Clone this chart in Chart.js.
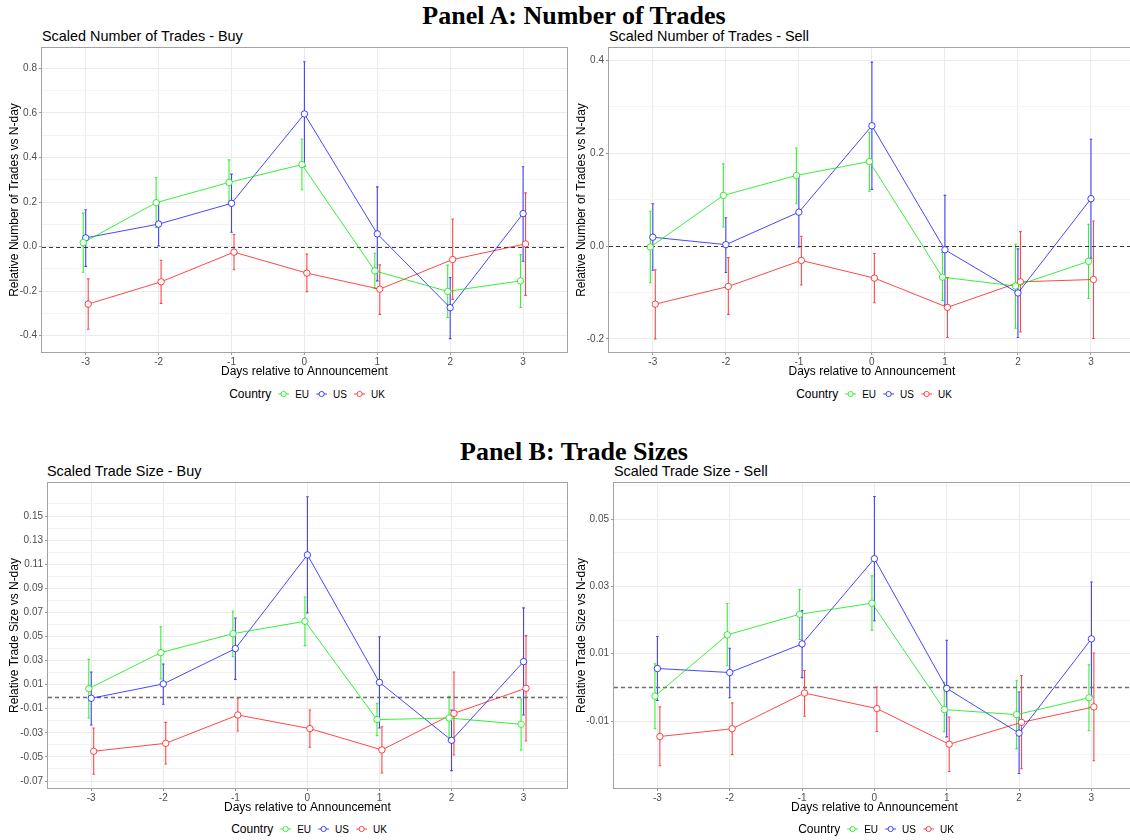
<!DOCTYPE html>
<html><head><meta charset="utf-8">
<script src="https://cdn.jsdelivr.net/npm/chart.js@4.4.1/dist/chart.umd.min.js"></script>
<style>
html,body{margin:0;padding:0;background:#fff;overflow:hidden;width:1130px;height:840px;position:relative;}
canvas{position:absolute;}
.ptitle{position:absolute;left:0;width:1148px;text-align:center;font-family:"Liberation Serif","Times New Roman",serif;font-weight:bold;font-size:26px;line-height:30px;color:#000;}
.stitle{position:absolute;font-family:"Liberation Sans",Arial,sans-serif;font-size:14.4px;line-height:17px;color:#000;white-space:nowrap;}
.legend{position:absolute;height:16px;display:flex;align-items:center;font-family:"Liberation Sans",Arial,sans-serif;white-space:nowrap;transform:translateX(-50%);}
.legend .lt{font-size:12px;margin-right:7px;}
.legend .li{font-size:10px;margin-left:6px;margin-right:7px;}
.legend .li:last-child{margin-right:0;}
.legend svg{display:block;}
</style>
</head><body>
<div class="ptitle" style="top:1px">Panel A: Number of Trades</div>
<div class="ptitle" style="top:437px">Panel B: Trade Sizes</div>
<div class="stitle" style="left:42px;top:28px">Scaled Number of Trades - Buy</div>
<div class="stitle" style="left:609px;top:28px">Scaled Number of Trades - Sell</div>
<div class="stitle" style="left:47px;top:463px">Scaled Trade Size - Buy</div>
<div class="stitle" style="left:614px;top:463px">Scaled Trade Size - Sell</div>
<canvas id="c1" width="571" height="339" style="left:0;top:40px"></canvas>
<canvas id="c2" width="569" height="339" style="left:570px;top:40px"></canvas>
<canvas id="c3" width="571" height="340" style="left:0;top:475px"></canvas>
<canvas id="c4" width="569" height="340" style="left:570px;top:475px"></canvas>
<div class="legend" id="lg1" style="left:307px;top:386px"></div>
<div class="legend" id="lg2" style="left:874px;top:386px"></div>
<div class="legend" id="lg3" style="left:309px;top:821px"></div>
<div class="legend" id="lg4" style="left:876px;top:821px"></div>
<script>
// ---------- data ----------
const days = [-3, -2, -1, 0, 1, 2, 3];
const countries = ['EU', 'US', 'UK'];

// Panel A: number of trades - buy
const nbBuyEU   = [0.018, 0.197, 0.288, 0.368, -0.109, -0.201, -0.154];
const nbBuyEUlo = [-0.115, 0.085, 0.192, 0.255, -0.188, -0.318, -0.273];
const nbBuyEUhi = [0.150, 0.310, 0.389, 0.483, -0.030, -0.083, -0.036];
const nbBuyUS   = [0.039, 0.101, 0.194, 0.595, 0.057, -0.274, 0.148];
const nbBuyUSlo = [-0.089, 0.003, 0.064, 0.361, -0.154, -0.413, -0.066];
const nbBuyUShi = [0.165, 0.198, 0.325, 0.829, 0.268, -0.139, 0.358];
const nbBuyUK   = [-0.258, -0.158, -0.025, -0.119, -0.191, -0.058, 0.012];
const nbBuyUKlo = [-0.371, -0.255, -0.104, -0.203, -0.304, -0.237, -0.219];
const nbBuyUKhi = [-0.145, -0.061, 0.054, -0.034, -0.082, 0.124, 0.241];

// Panel A: number of trades - sell
const nbSellEU   = [-0.002, 0.109, 0.152, 0.182, -0.067, -0.086, -0.033];
const nbSellEUlo = [-0.079, 0.041, 0.091, 0.118, -0.117, -0.177, -0.113];
const nbSellEUhi = [0.075, 0.177, 0.211, 0.245, -0.014, 0.004, 0.047];
const nbSellUS   = [0.019, 0.003, 0.073, 0.259, -0.008, -0.101, 0.102];
const nbSellUSlo = [-0.052, -0.057, -0.002, 0.122, -0.127, -0.197, -0.026];
const nbSellUShi = [0.091, 0.061, 0.150, 0.396, 0.109, -0.006, 0.230];
const nbSellUK   = [-0.125, -0.087, -0.031, -0.069, -0.132, -0.077, -0.072];
const nbSellUKlo = [-0.200, -0.147, -0.084, -0.122, -0.197, -0.185, -0.199];
const nbSellUKhi = [-0.051, -0.025, 0.021, -0.016, -0.068, 0.031, 0.054];

// Panel B: trade size - buy
const szBuyEU   = [0.0067, 0.0366, 0.0523, 0.0626, -0.0190, -0.0177, -0.0229];
const szBuyEUlo = [-0.0177, 0.0147, 0.0332, 0.0424, -0.0323, -0.0360, -0.0442];
const szBuyEUhi = [0.0310, 0.0580, 0.0709, 0.0828, -0.0055, 0.0003, -0.0019];
const szBuyUS   = [-0.0013, 0.0106, 0.0399, 0.1177, 0.0119, -0.0362, 0.0291];
const szBuyUSlo = [-0.0235, -0.0063, 0.0144, 0.0695, -0.0260, -0.0614, -0.0152];
const szBuyUShi = [0.0205, 0.0272, 0.0653, 0.1660, 0.0498, -0.0110, 0.0737];
const szBuyUK   = [-0.0453, -0.0387, -0.0152, -0.0265, -0.0442, -0.0138, 0.0070];
const szBuyUKlo = [-0.0644, -0.0559, -0.0285, -0.0420, -0.0633, -0.0484, -0.0368];
const szBuyUKhi = [-0.0260, -0.0213, -0.0013, -0.0110, -0.0249, 0.0205, 0.0507];

// Panel B: trade size - sell
const szSellEU   = [-0.0026, 0.0156, 0.0217, 0.0250, -0.0066, -0.0081, -0.0031];
const szSellEUlo = [-0.0123, 0.0064, 0.0142, 0.0170, -0.0132, -0.0182, -0.0129];
const szSellEUhi = [0.0070, 0.0249, 0.0291, 0.0331, 0.0015, 0.0021, 0.0067];
const szSellUS   = [0.0056, 0.0044, 0.0129, 0.0382, -0.0003, -0.0136, 0.0144];
const szSellUSlo = [-0.0039, -0.0031, 0.0029, 0.0198, -0.0147, -0.0256, -0.0026];
const szSellUShi = [0.0151, 0.0116, 0.0228, 0.0567, 0.0140, -0.0014, 0.0313];
const szSellUK   = [-0.0146, -0.0123, -0.0017, -0.0063, -0.0169, -0.0104, -0.0058];
const szSellUKlo = [-0.0233, -0.0200, -0.0086, -0.0131, -0.0250, -0.0242, -0.0218];
const szSellUKhi = [-0.0058, -0.0046, 0.0050, 0.0001, -0.0088, 0.0035, 0.0102];

// tick values
const nbBuyMajor  = [-0.4, -0.2, 0.0, 0.2, 0.4, 0.6, 0.8];
const nbBuyMinor  = [-0.3, -0.1, 0.1, 0.3, 0.5, 0.7];
const nbSellMajor = [-0.2, 0.0, 0.2, 0.4];
const nbSellMinor = [-0.1, 0.1, 0.3];
const szBuyMajor  = [-0.07, -0.05, -0.03, -0.01, 0.01, 0.03, 0.05, 0.07, 0.09, 0.11, 0.13, 0.15];
const szBuyMinor  = [-0.06, -0.04, -0.02, 0.00, 0.02, 0.04, 0.06, 0.08, 0.10, 0.12, 0.14, 0.16];
const szSellMajor = [-0.01, 0.01, 0.03, 0.05];
const szSellMinor = [-0.02, 0.00, 0.02, 0.04, 0.06];

// ---------- style ----------
const COLORS = {EU: 'rgba(0,235,0,0.78)', US: 'rgba(0,0,255,0.72)', UK: 'rgba(255,0,0,0.72)'};
const DODGE = {EU: -0.034, US: 0, UK: 0.034};
const FONT = '"Liberation Sans", Arial, sans-serif';

const errorBars = {
  id: 'errorBars',
  beforeDatasetsDraw(chart) {
    const ctx = chart.ctx, ys = chart.scales.y;
    ctx.save();
    chart.data.datasets.forEach((ds, di) => {
      const meta = chart.getDatasetMeta(di);
      ctx.strokeStyle = ds.borderColor;
      ctx.lineWidth = 1.1;
      meta.data.forEach((pt, i) => {
        const x = pt.x;
        const yl = ys.getPixelForValue(ds.errLo[i]);
        const yh = ys.getPixelForValue(ds.errHi[i]);
        ctx.beginPath();
        ctx.moveTo(x, yl); ctx.lineTo(x, yh);
        ctx.moveTo(x - 1.3, yl); ctx.lineTo(x + 1.3, yl);
        ctx.moveTo(x - 1.3, yh); ctx.lineTo(x + 1.3, yh);
        ctx.stroke();
      });
    });
    ctx.restore();
  }
};
const zeroLine = {
  id: 'zeroLine',
  beforeDatasetsDraw(chart, args, opts) {
    const ctx = chart.ctx, a = chart.chartArea;
    const y = Math.round(chart.scales.y.getPixelForValue(0)) + 0.5;
    ctx.save();
    ctx.strokeStyle = opts.color || '#444';
    ctx.lineWidth = opts.width || 1;
    ctx.setLineDash(opts.dash || [4, 3]);
    ctx.beginPath(); ctx.moveTo(a.left, y); ctx.lineTo(a.right, y); ctx.stroke();
    ctx.restore();
  }
};
const frame = {
  id: 'frame',
  afterDraw(chart) {
    const ctx = chart.ctx, a = chart.chartArea;
    ctx.save();
    ctx.strokeStyle = '#A3A3A3';
    ctx.lineWidth = 1;
    ctx.strokeRect(Math.round(a.left) - 0.5, Math.round(a.top) - 0.5, Math.round(a.right - a.left) + 1, Math.round(a.bottom - a.top) + 1);
    ctx.restore();
  }
};

function near(arr, v) { return arr.some(m => Math.abs(m - v) < 1e-9); }

function makeChart(id, cfg) {
  const datasets = countries.map((c, k) => ({
    label: c,
    data: days.map((d, i) => ({x: d + DODGE[c], y: cfg.series[k][0][i]})),
    errLo: cfg.series[k][1],
    errHi: cfg.series[k][2],
    borderColor: COLORS[c],
    backgroundColor: '#ffffff',
    pointBackgroundColor: '#ffffff',
    pointBorderColor: COLORS[c],
    pointRadius: 3.2,
    pointHoverRadius: 3.2,
    pointBorderWidth: 1,
    borderWidth: 1,
    tension: 0,
    fill: false
  }));
  const allY = cfg.major.concat(cfg.minor).sort((a, b) => a - b);
  return new Chart(document.getElementById(id), {
    type: 'line',
    data: {datasets},
    options: {
      responsive: false,
      animation: false,
      devicePixelRatio: 1,
      layout: {padding: {top: cfg.padTop, right: 1, bottom: 0, left: 0}},
      plugins: {
        legend: {display: false},
        tooltip: {enabled: false},
        title: {display: false},
        zeroLine: cfg.zero
      },
      scales: {
        x: {
          type: 'linear', min: -3.6, max: 3.6,
          afterBuildTicks(s) { s.ticks = days.map(v => ({value: v})); },
          afterFit(s) { s.height = cfg.xh; },
          ticks: {font: {family: FONT, size: 10}, color: '#4D4D4D', padding: 1, maxRotation: 0, autoSkip: false,
                  callback: v => String(v)},
          grid: {color: '#EBEBEB', tickColor: '#9A9A9A', tickLength: 3, lineWidth: 1},
          border: {display: false},
          title: {display: true, text: 'Days relative to Announcement', font: {family: FONT, size: 12}, color: '#000', padding: {top: 0, bottom: 0}}
        },
        y: {
          type: 'linear', min: cfg.min, max: cfg.max,
          afterBuildTicks(s) { s.ticks = allY.map(v => ({value: v})); },
          afterFit(s) { s.width = cfg.yw; },
          ticks: {font: {family: FONT, size: 10}, color: '#4D4D4D', padding: 2, autoSkip: false,
                  callback: v => near(cfg.major, v) ? v.toFixed(cfg.dec) : ''},
          grid: {
            color: c => (c.tick && near(cfg.major, c.tick.value)) ? '#EBEBEB' : '#F4F4F4',
            tickColor: c => (c.tick && near(cfg.major, c.tick.value)) ? '#9A9A9A' : 'rgba(0,0,0,0)',
            tickLength: 3, lineWidth: 1
          },
          border: {display: false},
          title: {display: true, text: cfg.yTitle, font: {family: FONT, size: 12}, color: '#000', padding: {top: cfg.yTitlePad, bottom: 0}}
        }
      }
    },
    plugins: [errorBars, zeroLine, frame]
  });
}

makeChart('c1', {
  series: [[nbBuyEU, nbBuyEUlo, nbBuyEUhi], [nbBuyUS, nbBuyUSlo, nbBuyUShi], [nbBuyUK, nbBuyUKlo, nbBuyUKhi]],
  min: -0.473, max: 0.891, major: nbBuyMajor, minor: nbBuyMinor, dec: 1,
  yTitle: 'Relative Number of Trades vs N-day', yw: 42, xh: 27, padTop: 7, yTitlePad: 7.5,
  zero: {color: '#3a3a3a', width: 1, dash: [4, 3]}
});
makeChart('c2', {
  series: [[nbSellEU, nbSellEUlo, nbSellEUhi], [nbSellUS, nbSellUSlo, nbSellUShi], [nbSellUK, nbSellUKlo, nbSellUKhi]],
  min: -0.2281, max: 0.4264, major: nbSellMajor, minor: nbSellMinor, dec: 1,
  yTitle: 'Relative Number of Trades vs N-day', yw: 39, xh: 27, padTop: 7, yTitlePad: 4.5,
  zero: {color: '#3a3a3a', width: 1, dash: [4, 3]}
});
makeChart('c3', {
  series: [[szBuyEU, szBuyEUlo, szBuyEUhi], [szBuyUS, szBuyUSlo, szBuyUShi], [szBuyUK, szBuyUKlo, szBuyUKhi]],
  min: -0.0758, max: 0.1774, major: szBuyMajor, minor: szBuyMinor, dec: 2,
  yTitle: 'Relative Trade Size vs N-day', yw: 48, xh: 27, padTop: 7, yTitlePad: 7.5,
  zero: {color: '#707070', width: 1.6, dash: [4, 3]}
});
makeChart('c4', {
  series: [[szSellEU, szSellEUlo, szSellEUhi], [szSellUS, szSellUSlo, szSellUShi], [szSellUK, szSellUKlo, szSellUKhi]],
  min: -0.0299, max: 0.0607, major: szSellMajor, minor: szSellMinor, dec: 2,
  yTitle: 'Relative Trade Size vs N-day', yw: 44, xh: 27, padTop: 7, yTitlePad: 4.5,
  zero: {color: '#707070', width: 1.6, dash: [4, 3]}
});

// ---------- legends ----------
function buildLegend(id) {
  const el = document.getElementById(id);
  let html = '<span class="lt">Country</span>';
  countries.forEach(c => {
    html += '<svg width="11" height="10" viewBox="0 0 11 10"><line x1="0" y1="5" x2="11" y2="5" stroke="' + COLORS[c] + '" stroke-width="1"/>' +
            '<circle cx="5.5" cy="5" r="2.6" fill="#fff" stroke="' + COLORS[c] + '" stroke-width="1"/></svg>' +
            '<span class="li">' + c + '</span>';
  });
  el.innerHTML = html;
}
['lg1', 'lg2', 'lg3', 'lg4'].forEach(buildLegend);
</script>
</body></html>
